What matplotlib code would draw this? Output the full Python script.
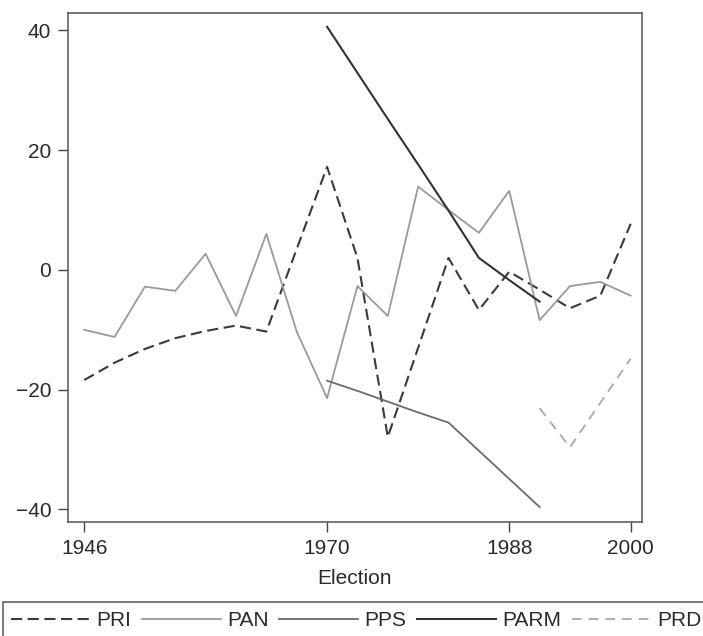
import matplotlib
matplotlib.use("Agg")
import matplotlib.pyplot as plt
from matplotlib.patches import Rectangle

plt.rcParams['font.family'] = ['Liberation Sans', 'DejaVu Sans']
plt.rcParams['lines.scale_dashes'] = False

# election years
years = [1946, 1949, 1952, 1955, 1958, 1961, 1964, 1967, 1970, 1973,
         1976, 1979, 1982, 1985, 1988, 1991, 1994, 1997, 2000]

pri = [-18.4, -15.5, -13.2, -11.4, -10.2, -9.3, -10.3, 3.5, 17.2, 2.0,
       -27.9, -13.0, 2.0, -6.7, -0.3, -3.3, -6.4, -4.3, 7.7]
pan = [-10.0, -11.2, -2.8, -3.5, 2.7, -7.7, 6.0, -10.3, -21.4, -2.7,
       -7.7, 13.9, 10.0, 6.2, 13.2, -8.4, -2.7, -2.0, -4.3]

years_pps = [1970, 1973, 1976, 1979, 1982, 1985, 1988, 1991]
pps = [-18.5, -20.2, -22.0, -23.8, -25.5, -30.2, -34.9, -39.6]

years_parm = [1970, 1973, 1976, 1979, 1982, 1985, 1988, 1991]
parm = [40.6, 32.9, 25.2, 17.6, 9.9, 2.0, -1.7, -5.3]

years_prd = [1991, 1994, 1997, 2000]
prd = [-23.1, -29.6, -22.2, -14.8]

xticks = [1946, 1970, 1988, 2000]
yticks = [-40, -20, 0, 20, 40]

fig = plt.figure(figsize=(7.03, 6.36), dpi=100)
ax = fig.add_axes([0.0967, 0.1792, 0.8163, 0.8004])

ax.plot(years, pri, color='#3a3a3a', lw=1.5, dashes=(8, 4), label='PRI')
ax.plot(years, pan, color='#9a9a9a', lw=1.3, label='PAN')
ax.plot(years_pps, pps, color='#6a6a6a', lw=1.3, label='PPS')
ax.plot(years_parm, parm, color='#333333', lw=1.5, label='PARM')
ax.plot(years_prd, prd, color='#a8a8a8', lw=1.3, dashes=(7, 5), label='PRD')

ax.set_xlim(1944.4, 2001.1)
ax.set_ylim(-42.1, 42.9)
ax.set_xticks(xticks)
ax.set_yticks(yticks)
ax.tick_params(direction='out', length=7, width=1, colors='#444444',
               labelsize=15, labelcolor='#2a2a2a', pad=5)
for s in ax.spines.values():
    s.set_color('#555555')
    s.set_linewidth(1.1)
ax.set_xlabel('Election', fontsize=15, color='#2a2a2a', labelpad=8)

# legend box along the bottom
fig.patches.append(Rectangle((3 / 703, -0.05), 1.0, 0.05 + 34 / 636,
                             transform=fig.transFigure, fill=False,
                             edgecolor='#555555', lw=1.1))
fig.legend(loc='center left', bbox_to_anchor=(11 / 703, 1 - 621 / 636), ncol=5,
           frameon=False, fontsize=15, handlelength=3.8, handletextpad=0.3,
           columnspacing=0.5, borderaxespad=0, borderpad=0,
           labelcolor='#2a2a2a')

fig.savefig('out.png', dpi=100)
